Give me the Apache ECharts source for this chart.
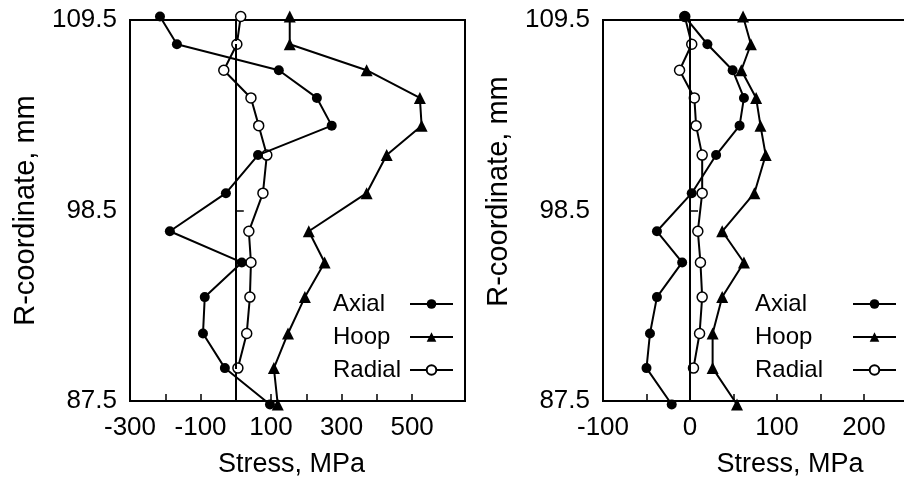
<!DOCTYPE html>
<html>
<head>
<meta charset="utf-8">
<style>
  html, body { margin: 0; padding: 0; background: #fff; }
  #main { width: 904px; height: 482px; }
</style>
<script src="https://cdn.jsdelivr.net/npm/echarts@6/dist/echarts.min.js"></script>
</head>
<body>
<div id="main"></div>
<script>
// R positions (mm), top to bottom, same for both panels
var rCoord = [109.7, 108.1, 106.6, 105.0, 103.4, 101.7, 99.5, 97.3, 95.5, 93.5, 91.4, 89.4, 87.3];

// left panel, stress in MPa
var axialL = [-215, -167, 122, 230, 272, 63, -28, -187, 17, -88, -93, -31, 97];
var hoopL = [153, 153, 371, 522, 527, 428, 371, 207, 252, 196, 148, 108, 119];
var radialL = [14, 3, -34, 43, 65, 88, 77, 37, 43, 40, 31, 6];

// right panel, stress in MPa
var axialR = [-6, 20, 49, 62, 57, 30, 2, -38, -9, -38, -46, -50, -21];
var hoopR = [61, 70, 59, 76, 81, 87, 74, 37, 62, 37, 26, 26, 54];
var radialR = [-6, 2, -12, 5, 7, 14, 14, 9, 12, 14, 11, 4];

// axis ticks / labels
var yLabels = [87.5, 98.5, 109.5];
var yTicks = [98.5];
var xLabelsL = [-300, -100, 100, 300, 500];
var xTicksL = [-200, -100, 0, 100, 200, 300, 400, 500];
var xLabelsR = [-100, 0, 100, 200];
var xTicksR = [-50, 0, 50, 100, 150, 200, 250];

var names = ['Axial', 'Hoop', 'Radial'];
var FONT = '"Liberation Sans", Arial, sans-serif';

function pts(vals) {
  return vals.map(function (v, i) { return [v, rCoord[i]]; });
}

function line(name, vals, idx) {
  var hoop = name === 'Hoop';
  var radial = name === 'Radial';
  return {
    name: name,
    type: 'line',
    xAxisIndex: idx,
    yAxisIndex: idx,
    data: pts(vals),
    clip: false,
    symbol: hoop ? 'triangle' : 'circle',
    symbolSize: hoop ? 12 : 10,
    lineStyle: { color: '#000', width: 2 },
    itemStyle: radial
      ? { color: '#fff', borderColor: '#000', borderWidth: 1.5 }
      : { color: '#000' },
    z: name === 'Axial' ? 4 : 3,
    emphasis: { disabled: true }
  };
}

function zeroLine(type) {
  return {
    silent: true,
    symbol: 'none',
    label: { show: false },
    lineStyle: { color: '#000', width: 2, type: type },
    emphasis: { disabled: true },
    data: [{ xAxis: 0 }]
  };
}

function xAxis(idx, min, max, ticks, labels, pad) {
  return {
    type: 'value',
    gridIndex: idx,
    min: min,
    max: max,
    axisLine: { show: true, lineStyle: { color: '#000', width: 2 } },
    axisTick: { show: true, inside: true, length: 7, customValues: ticks, lineStyle: { color: '#000', width: 1.5 } },
    axisLabel: { customValues: labels, fontSize: 26, color: '#000', margin: 14, fontFamily: FONT },
    splitLine: { show: false },
    name: 'Stress, MPa',
    nameLocation: 'middle',
    nameGap: 50,
    nameTextStyle: { fontSize: 27, color: '#000', fontFamily: FONT, padding: pad }
  };
}

function yAxis(idx, pad) {
  return {
    type: 'value',
    gridIndex: idx,
    min: 87.5,
    max: 109.5,
    axisLine: { show: true, lineStyle: { color: '#000', width: 2 } },
    axisTick: { show: true, inside: true, length: 8, customValues: yTicks, lineStyle: { color: '#000', width: 1.5 } },
    axisLabel: {
      customValues: yLabels, fontSize: 26, color: '#000', margin: 13, fontFamily: FONT,
      formatter: function (v) { return v.toFixed(1); }
    },
    splitLine: { show: false },
    name: 'R-coordinate, mm',
    nameLocation: 'middle',
    nameGap: 90,
    nameTextStyle: { fontSize: 29, color: '#000', fontFamily: FONT, padding: pad }
  };
}

function legend(left, textW) {
  return {
    left: left,
    top: 292,
    orient: 'vertical',
    align: 'right',
    padding: 0,
    itemGap: 9,
    itemWidth: 43,
    itemHeight: 12,
    selectedMode: false,
    data: names,
    formatter: function (n) { return '{t|' + n + '}'; },
    textStyle: {
      color: '#000', fontSize: 24, fontFamily: FONT,
      rich: { t: { width: textW, align: 'left', fontSize: 24, lineHeight: 24, color: '#000', fontFamily: FONT } }
    }
  };
}

var chart = echarts.init(document.getElementById('main'));

var sAxialL = line('Axial', axialL, 0);
sAxialL.markLine = zeroLine([5, 3]);
var sAxialR = line('Axial', axialR, 1);
sAxialR.markLine = zeroLine('solid');

chart.setOption({
  backgroundColor: '#fff',
  animation: false,
  textStyle: { fontFamily: FONT },
  grid: [
    { left: 130, top: 20, width: 335, height: 381, show: true, borderColor: '#000', borderWidth: 2, outerBoundsMode: 'none' },
    { left: 603, top: 20, width: 348, height: 381, show: true, borderColor: '#000', borderWidth: 2, outerBoundsMode: 'none' }
  ],
  xAxis: [
    xAxis(0, -300, 650, xTicksL, xLabelsL, [0, 12, 0, 0]),
    xAxis(1, -100, 300, xTicksR, xLabelsR, [0, 0, 0, 26])
  ],
  yAxis: [
    yAxis(0, [0, 0, 0, 0]),
    yAxis(1, [0, 0, 0, 38])
  ],
  legend: [legend(333, 72), legend(755, 93)],
  series: [
    sAxialL,
    line('Hoop', hoopL, 0),
    line('Radial', radialL, 0),
    sAxialR,
    line('Hoop', hoopR, 1),
    line('Radial', radialR, 1)
  ]
});
</script>
</body>
</html>
